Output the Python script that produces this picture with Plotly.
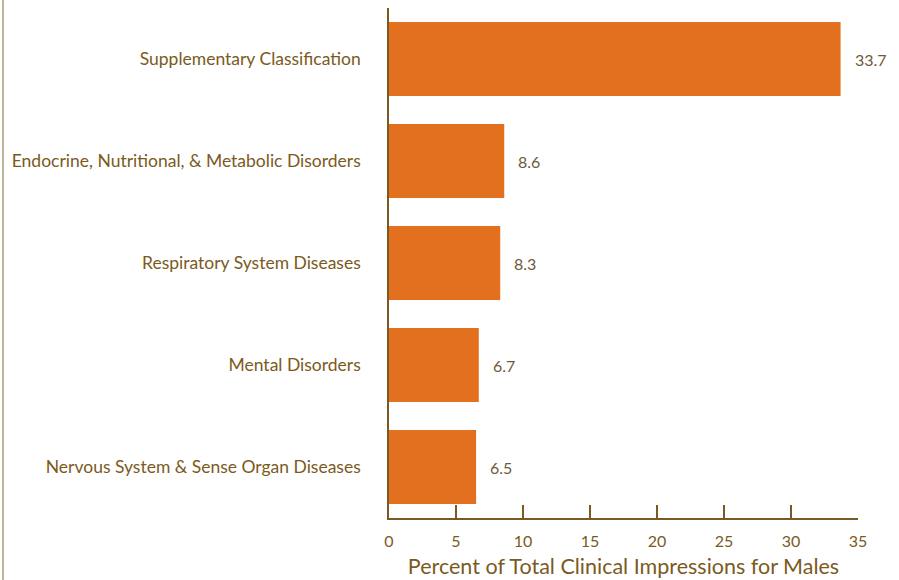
import plotly.graph_objects as go

categories = [
    "Supplementary Classification",
    "Endocrine, Nutritional, & Metabolic Disorders",
    "Respiratory System Diseases",
    "Mental Disorders",
    "Nervous System & Sense Organ Diseases",
]
values = [33.7, 8.6, 8.3, 6.7, 6.5]
x_ticks = [0, 5, 10, 15, 20, 25, 30, 35]

BROWN = "#7B5A22"
ORANGE = "#E2701F"
FONT = "Lato"

fig = go.Figure(
    go.Bar(
        x=values,
        y=categories,
        orientation="h",
        marker=dict(color=ORANGE, line=dict(width=0)),
        width=0.725,
        hoverinfo="x+y",
    )
)

# value labels sit a bit further out than plotly's own outside text
for cat, val in zip(categories, values):
    fig.add_annotation(
        x=val, y=cat, text=f"{val:.1f}", showarrow=False,
        xanchor="left", xshift=12, font=dict(family=FONT, size=16, color="#6E5A3A"),
    )

fig.update_layout(
    width=899,
    height=580,
    margin=dict(l=389, r=41, t=8, b=62),
    plot_bgcolor="white",
    paper_bgcolor="white",
    showlegend=False,
    font=dict(family=FONT, color=BROWN),
    bargap=0.275,
)

fig.update_xaxes(
    range=[0, 35],
    tickvals=x_ticks,
    ticks="inside",
    ticklen=13,
    tickwidth=1.5,
    tickcolor=BROWN,
    showline=True,
    linecolor=BROWN,
    linewidth=1.5,
    showgrid=False,
    zeroline=False,
    automargin=False,
    ticklabelstandoff=8,
    tickfont=dict(size=16, color=BROWN),
    title=dict(text="Percent of Total Clinical Impressions for Males",
               font=dict(size=21.5, color=BROWN), standoff=10),
)

fig.update_yaxes(
    categoryorder="array",
    categoryarray=categories[::-1],
    range=[-0.5, 4.5],
    showline=True,
    linecolor=BROWN,
    linewidth=1.5,
    showgrid=False,
    ticks="",
    automargin=False,
    ticklabelstandoff=23,
    tickfont=dict(size=17.5, color=BROWN),
)

# thin frame line at the far left edge
fig.add_shape(
    type="line", xref="paper", yref="paper",
    x0=-386 / 469, x1=-386 / 469, y0=-62 / 510, y1=1 + 8 / 510,
    line=dict(color="#A89878", width=1.5),
)

fig.write_html(
    "out.html",
    config={"displayModeBar": False},
    post_script="document.body.style.margin='0';",
)
